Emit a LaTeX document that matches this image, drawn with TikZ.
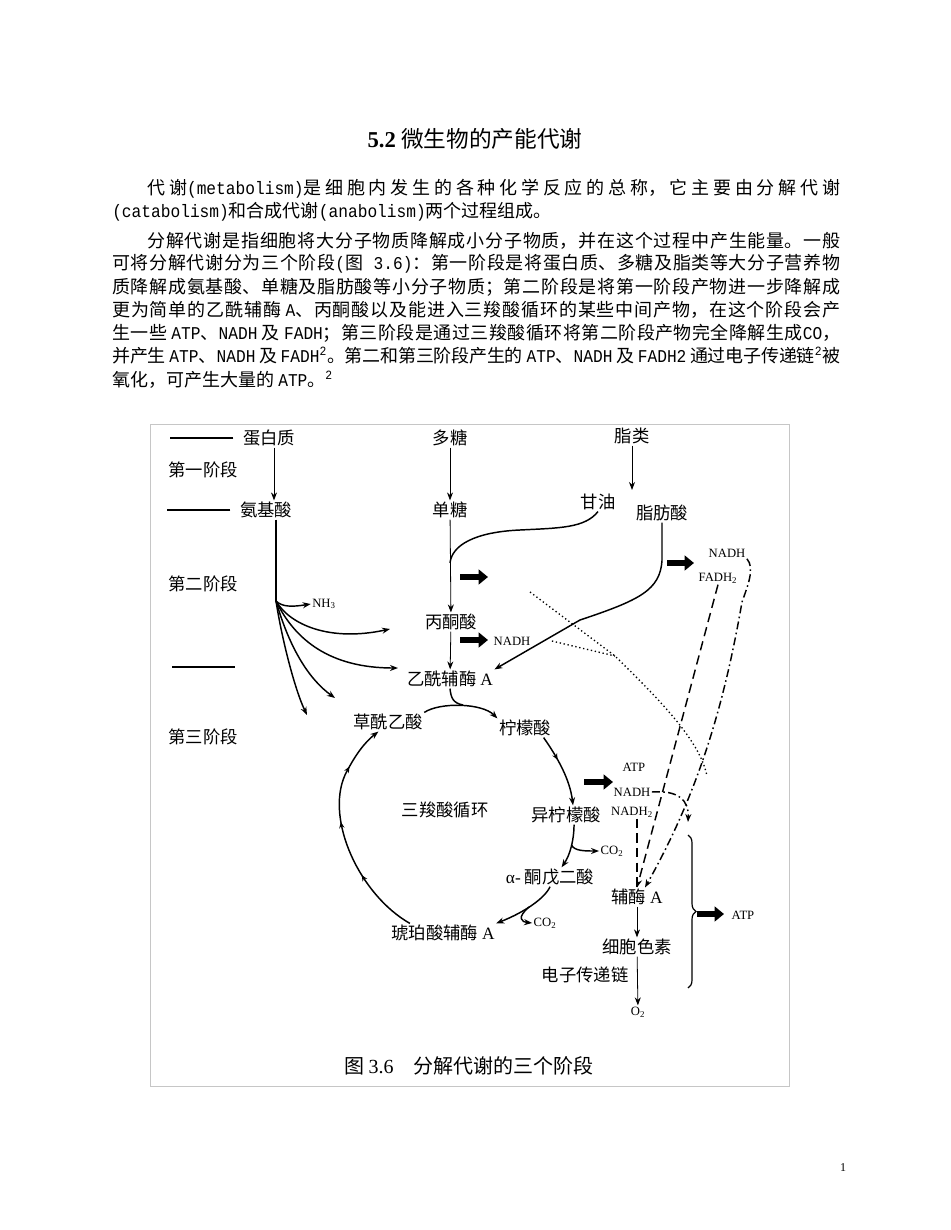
\documentclass[tikz,border=0pt]{standalone}
\usepackage{fontspec}
\setmainfont{Noto Sans CJK SC}
\newfontfamily\ser{Liberation Serif}
\newfontfamily\tw[FakeStretch=0.9]{Liberation Mono}
\usepackage{tikz}
\usetikzlibrary{positioning, arrows.meta, calc, decorations.pathreplacing, decorations.markings}
\XeTeXlinebreaklocale "zh"
\XeTeXlinebreakskip=0pt plus 3pt minus 0.5pt
\tolerance=10000
\hbadness=10000
\newcommand{\jline}[2]{\vbox{\hsize=#1\parindent=0pt\parfillskip=0pt\noindent #2\par}}
\newcommand{\supt}{\textsuperscript{\tw 2}}

\begin{document}
\begin{tikzpicture}[x=0.75pt, y=-0.75pt,
  lbl/.style={inner sep=1pt, font=\fontsize{13pt}{15pt}\selectfont},
  sm/.style={inner sep=1pt, font=\ser\fontsize{9.5pt}{11pt}\selectfont},
  bodyl/.style={anchor=west, inner sep=0pt, font=\fontsize{13.5pt}{17pt}\selectfont},
  capt/.style={inner sep=1pt, font=\fontsize{15pt}{17pt}\selectfont},
  ahead/.style={-{Stealth[length=6pt, width=4.5pt]}},
  arr/.style={ahead, line width=0.6pt},
  thk/.style={line width=1.1pt},
  blk/.style={line width=5pt, -{Triangle[length=7pt, width=11pt]}},
  dotl/.style={dotted, line width=1pt},
  dsh/.style={dash pattern=on 7pt off 4pt, line width=1.1pt},
  dshdot/.style={dash pattern=on 6pt off 2.5pt on 1.2pt off 2.5pt, line width=1.1pt},
  ticks/.style={postaction={decorate}, decoration={markings,
    mark=at position #1 with {\arrow{Stealth[length=4.5pt, width=4pt]}}}},
  ticks3/.style={postaction={decorate}, decoration={markings,
    mark=at position 0.3 with {\arrow{Stealth[length=4.5pt, width=4pt]}},
    mark=at position 0.55 with {\arrow{Stealth[length=4.5pt, width=4pt]}},
    mark=at position 0.8 with {\arrow{Stealth[length=4.5pt, width=4pt]}}}}]
\useasboundingbox (0,0) rectangle (950,1230);

\node[font=\fontsize{17pt}{20pt}\selectfont] (title) at (475,139) {{\ser\bfseries 5.2} 微生物的产能代谢};

\node[bodyl] (l1) at (147,189) {\jline{519.75pt}{代谢{\tw(metabolism)}是细胞内发生的各种化学反应的总称，它主要由分解代谢}};
\node[bodyl] (l2) at (112,212) {{\tw(catabolism)}和合成代谢{\tw(anabolism)}两个过程组成。};
\node[bodyl] (l3) at (147,241) {\jline{519.75pt}{分解代谢是指细胞将大分子物质降解成小分子物质，并在这个过程中产生能量。一般}};
\node[bodyl] (l4) at (112,264) {\jline{546pt}{可将分解代谢分为三个阶段{\tw(}图{\tw\ 3.6)}：第一阶段是将蛋白质、多糖及脂类等大分子营养物}};
\node[bodyl] (l5) at (112,287) {\jline{546pt}{质降解成氨基酸、单糖及脂肪酸等小分子物质；第二阶段是将第一阶段产物进一步降解成}};
\node[bodyl] (l6) at (112,310) {\jline{546pt}{更为简单的乙酰辅酶 {\tw A}、丙酮酸以及能进入三羧酸循环的某些中间产物，在这个阶段会产}};
\node[bodyl] (l7) at (112,333) {\jline{546pt}{生一些 {\tw ATP}、{\tw NADH} 及 {\tw FADH}；第三阶段是通过三羧酸循环将第二阶段产物完全降解生成{\tw CO}，}};
\node[bodyl] (l8) at (112,356) {\jline{546pt}{并产生 {\tw ATP}、{\tw NADH} 及 {\tw FADH}\supt。第二和第三阶段产生的 {\tw ATP}、{\tw NADH} 及 {\tw FADH2} 通过电子传递链\supt 被}};
\node[bodyl] (l9) at (112,380) {氧化，可产生大量的 {\tw ATP}。\supt};

\draw[gray!45] (150,424) rectangle (789,1086);

\node[lbl] (prot) at (269,438) {蛋白质};
\node[lbl] (poly) at (450,438) {多糖};
\node[lbl] (lipid) at (632,436) {脂类};
\node[lbl] (s1) at (203,470) {第一阶段};
\node[lbl] (amino) at (266,510) {氨基酸};
\node[lbl] (mono) at (450,510) {单糖};
\node[lbl] (glyc) at (598,502) {甘油};
\node[lbl] (fatty) at (662,513) {脂肪酸};
\node[lbl] (s2) at (203,584) {第二阶段};
\node[sm] (nh3) at (324,604) {NH\textsubscript{3}};
\node[lbl] (pyr) at (451,622) {丙酮酸};
\node[sm] (nadh1) at (512,641) {NADH};
\node[sm] (nadh2) at (727,553) {NADH};
\node[sm] (fadh) at (718,578) {FADH\textsubscript{2}};
\node[lbl] (acoa) at (450,679) {乙酰辅酶 {\ser A}};
\node[lbl] (s3) at (203,737) {第三阶段};
\node[lbl] (oaa) at (388,722) {草酰乙酸};
\node[lbl] (cit) at (525,728) {柠檬酸};
\node[lbl] (tca) at (445,810) {三羧酸循环};
\node[lbl] (icit) at (566,815) {异柠檬酸};
\node[sm] (atp1) at (634,767) {ATP};
\node[sm] (nadh3) at (632,792) {NADH};
\node[sm] (nadh4) at (632,812) {NADH\textsubscript{2}};
\node[sm] (co2a) at (612,851) {CO\textsubscript{2}};
\node[lbl] (akg) at (550,877) {{\ser α-} 酮戊二酸};
\node[lbl] (coa) at (637,897) {辅酶 {\ser A}};
\node[sm] (co2b) at (545,923) {CO\textsubscript{2}};
\node[lbl] (succ) at (443,933) {琥珀酸辅酶 {\ser A}};
\node[sm] (atp2) at (743,915) {ATP};
\node[lbl] (cyt) at (637,947) {细胞色素};
\node[lbl] (etc) at (585,975) {电子传递链};
\node[sm] (o2) at (638,1012) {O\textsubscript{2}};
\node[capt] (fig) at (469,1066) {图 {\ser 3.6}\quad 分解代谢的三个阶段};

\coordinate (br) at (276,601);
\coordinate (e1) at (390,629);
\coordinate (e2) at (398,668);
\coordinate (e3) at (335,698);
\coordinate (e4) at (307,715);
\coordinate (lipe) at (632,490);
\coordinate (gj) at (450,563);
\coordinate (jn) at (463,705);
\coordinate (d1) at (530,592);
\coordinate (dm) at (615,656);
\coordinate (d2) at (707,776);
\coordinate (c1) at (688,822);
\coordinate (bt) at (688,835);
\coordinate (bb) at (688,988);
\coordinate (b1) at (460,577);
\coordinate (b2) at (460,640);
\coordinate (b3) at (667,563);
\coordinate (b4) at (584,782);
\coordinate (b5) at (697,914);

\draw[line width=1.5pt] ([xshift=-6pt]prot.west) -- ++(-63,0);
\draw[line width=0.8pt] ([xshift=-6pt]amino.west) -- ++(-63,0);
\draw[line width=1pt] (172,667) -- (235,667);

\draw[arr] ($(prot.south)+(5,0)$) -- ($(amino.north)+(8,0)$);
\draw[arr] (poly) -- (mono);
\draw[arr] (lipid) -- (lipe);
\draw[arr] (mono) -- (pyr);
\draw[arr] (pyr) -- (acoa);

\draw[thk] ($(amino.south)+(10,0)$) -- (br);
\draw[thk, ahead] (br) .. controls (282,607) and (292,607) .. (nh3.west);
\draw[thk, ahead] (br) .. controls (290,625) and (330,642) .. (e1);
\draw[thk, ahead] (br) .. controls (295,640) and (330,668) .. (e2);
\draw[thk, ahead] (br) .. controls (290,650) and (310,680) .. (e3);
\draw[thk, ahead] (br) .. controls (282,640) and (295,690) .. (e4);

\draw[thk] (glyc.south) .. controls (585,528) and (560,528) .. (520,530) .. controls (475,532) and (452,545) .. (gj);
\draw[thk, ahead] (fatty.south) -- ++(0,38) .. controls (660,590) and (640,600) .. (580,620) -- (acoa.north east);

\draw[blk] (b1) -- ++(28,0);
\draw[blk] (b2) -- ++(28,0);
\draw[blk] (b3) -- ++(27,0);
\draw[blk] (b4) -- ++(29,0);
\draw[blk] (b5) -- ++(27,0);

\draw[dotl] (d1) -- (dm) .. controls (665,705) and (700,742) .. (d2);
\draw[dotl] ($(nadh1.east)+(20,0)$) -- (dm);
\draw[dsh, ahead] (fadh.south) -- (coa.north);
\draw[dshdot, ahead] (nadh2.south east) .. controls (755,568) and (748,585) .. (742,602) .. controls (725,700) and (700,790) .. ($(coa.north)+(8,0)$);
\draw[dshdot, ahead] (nadh3.east) .. controls (678,790) and (689,800) .. (c1);
\draw[dsh] (nadh4.south -| coa.north) -- (coa.north);

\draw[thk, ahead] (oaa.north east) .. controls (440,702) and (482,703) .. (cit.north west);
\draw[thk] (acoa.south) .. controls (451,698) and (453,703) .. (jn);
\draw[thk, ahead, ticks=0.35] ($(cit.south east)+(-9,0)$) .. controls (558,758) and (570,780) .. ($(icit.north)+(7,0)$);
\draw[thk, ahead] (icit.-50) .. controls (574,840) and (570,855) .. (akg.40) coordinate[pos=0.45] (m1);
\draw[thk, ahead] (m1) .. controls (574,851) and (585,851) .. (co2a.west);
\draw[thk, ahead] (akg.south) .. controls (545,898) and (525,912) .. (succ.north east) coordinate[pos=0.55] (m2);
\draw[thk, ahead] (m2) .. controls (516,918) and (522,922) .. (co2b.west);
\draw[thk, ahead, ticks3] ($(succ.north west)+(20,0)$) .. controls (360,895) and (325,820) .. (345,775) .. controls (355,755) and (365,742) .. (oaa.-135);

\draw[arr] (coa) -- (cyt);
\draw[arr] (cyt) -- (o2);
\draw[decorate, decoration={brace, amplitude=6pt}, line width=0.9pt] (bt) -- (bb);

\node[font=\ser\fontsize{9pt}{10pt}\selectfont] (pg) at (843,1168) {1};
\end{tikzpicture}
\end{document}
